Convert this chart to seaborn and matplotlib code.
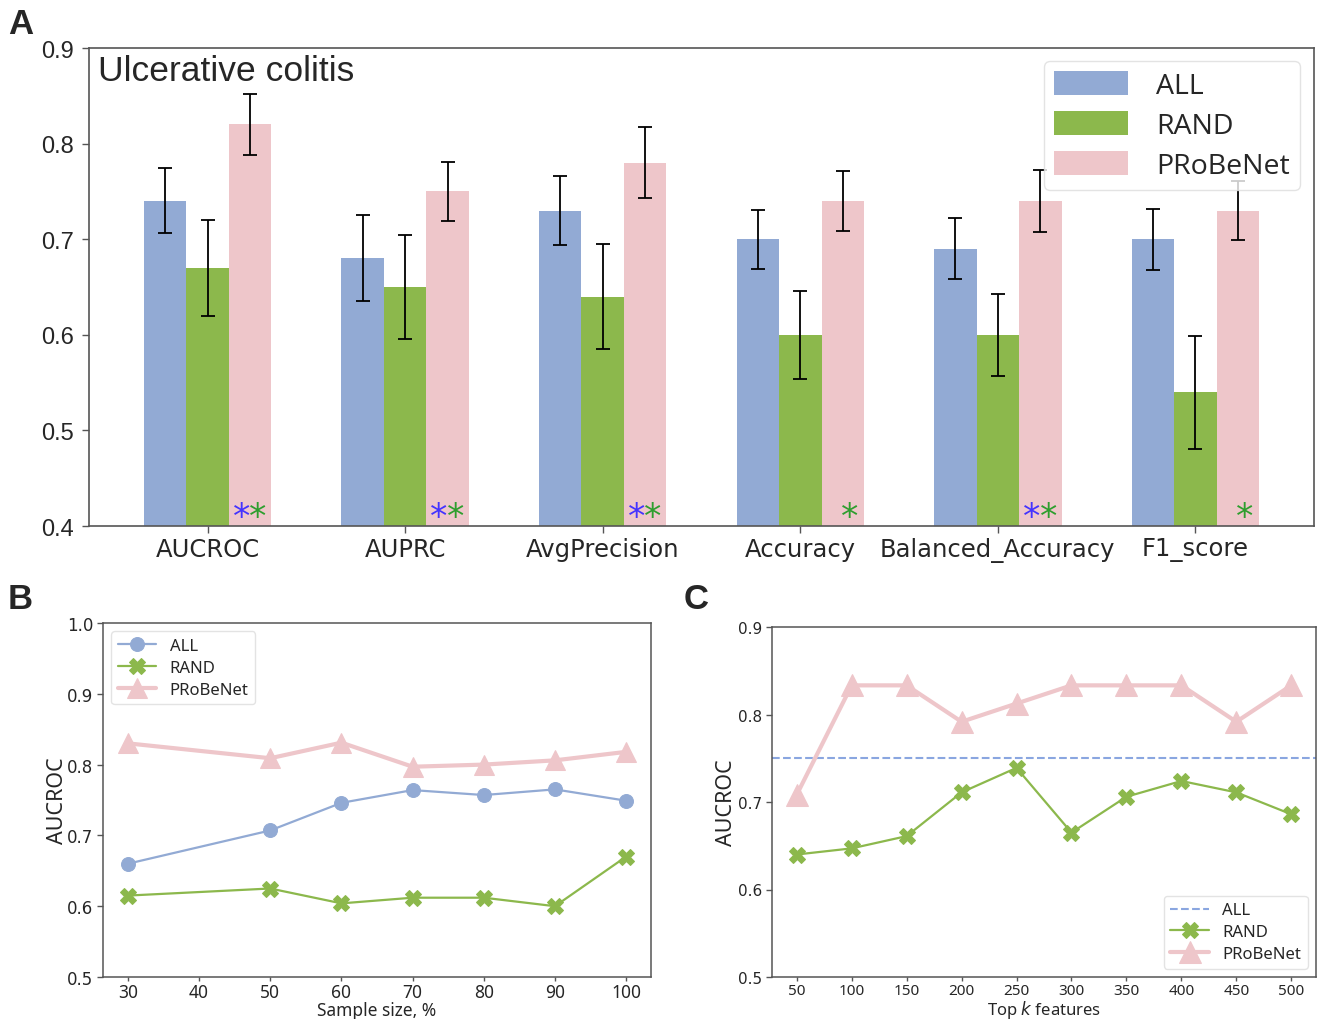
import numpy as np
import pandas as pd
import matplotlib
matplotlib.use("Agg")
import matplotlib.pyplot as plt
import seaborn as sns

# ---------------- data ----------------
metrics = ["AUCROC", "AUPRC", "AvgPrecision", "Accuracy", "Balanced_Accuracy", "F1_score"]
groups = ["ALL", "RAND", "PRoBeNet"]
all_vals = [0.74, 0.68, 0.73, 0.70, 0.69, 0.70]
rand_vals = [0.67, 0.65, 0.64, 0.60, 0.60, 0.54]
probe_vals = [0.82, 0.75, 0.78, 0.74, 0.74, 0.73]
all_err = [0.034, 0.045, 0.036, 0.031, 0.032, 0.032]
rand_err = [0.050, 0.054, 0.055, 0.046, 0.043, 0.059]
probe_err = [0.032, 0.031, 0.037, 0.031, 0.032, 0.031]
# significance markers under PRoBeNet bars: (vs ALL, vs RAND)
sig_all = [True, True, True, False, True, False]
sig_rand = [True, True, True, True, True, True]

sample_size = [30, 50, 60, 70, 80, 90, 100]
b_all = [0.660, 0.707, 0.746, 0.764, 0.757, 0.765, 0.749]
b_rand = [0.615, 0.625, 0.604, 0.612, 0.612, 0.600, 0.670]
b_probe = [0.830, 0.809, 0.831, 0.797, 0.800, 0.806, 0.818]

top_k = [50, 100, 150, 200, 250, 300, 350, 400, 450, 500]
c_all = 0.75
c_rand = [0.640, 0.647, 0.661, 0.711, 0.739, 0.665, 0.706, 0.724, 0.711, 0.686]
c_probe = [0.7083, 0.8333, 0.8333, 0.7917, 0.8125, 0.8333, 0.8333, 0.8333, 0.7917, 0.8333]

# ---------------- style ----------------
sns.set_theme(style="white")
plt.rcParams["font.family"] = ["DejaVu Sans"]
C_ALL = "#92AAD4"
C_RAND = "#8CB84C"
C_PROBE = "#EEC6CA"
SPINE = "#555555"

fig = plt.figure(figsize=(13.23, 10.20), dpi=100)

# ---------------- Panel A ----------------
axA = fig.add_axes([89 / 1323, 1 - 527 / 1020, 1225 / 1323, 478 / 1020])
dfA = pd.DataFrame({
    "metric": np.repeat(metrics, 3),
    "group": groups * len(metrics),
    "value": np.ravel(np.column_stack([all_vals, rand_vals, probe_vals])),
    "err": np.ravel(np.column_stack([all_err, rand_err, probe_err])),
})
sns.barplot(data=dfA, x="metric", y="value", hue="group", hue_order=groups,
            order=metrics, palette=[C_ALL, C_RAND, C_PROBE], width=0.645,
            errorbar=None, saturation=1, ax=axA, legend=True, linewidth=0,
            edgecolor="none")

# error bars at the bar centres
for gi, g in enumerate(groups):
    cont = axA.containers[gi]
    sub = dfA[dfA.group == g].set_index("metric").loc[metrics]
    xs = [p.get_x() + p.get_width() / 2 for p in cont.patches]
    axA.errorbar(xs, sub["value"].values, yerr=sub["err"].values, fmt="none",
                 ecolor="black", elinewidth=1.3, capsize=5, capthick=1.3, zorder=5)

# significance stars
probe_patches = axA.containers[2].patches
for i, p in enumerate(probe_patches):
    cx = p.get_x() + p.get_width() / 2
    if sig_all[i] and sig_rand[i]:
        axA.text(cx - 0.045, 0.392, "*", color="#4433FF", ha="center", va="bottom",
                 fontsize=25, zorder=6)
        axA.text(cx + 0.040, 0.392, "*", color="#2E9E2E", ha="center", va="bottom",
                 fontsize=25, zorder=6)
    elif sig_rand[i]:
        axA.text(cx + 0.035, 0.392, "*", color="#2E9E2E", ha="center", va="bottom",
                 fontsize=25, zorder=6)

axA.set_ylim(0.4, 0.9)
axA.set_xlim(-0.6, 5.6)
axA.set_yticks([0.4, 0.5, 0.6, 0.7, 0.8, 0.9])
axA.set_yticklabels(["0.4", "0.5", "0.6", "0.7", "0.8", "0.9"],
                    fontsize=17, family="Liberation Sans")
axA.set_xticks(range(len(metrics)))
axA.set_xticklabels(metrics, fontsize=17.5)
axA.set_xlabel("")
axA.set_ylabel("")
axA.tick_params(axis="both", length=5, color=SPINE, width=1, bottom=True, left=True, pad=3)
axA.tick_params(axis="y", pad=6)
for s in axA.spines.values():
    s.set_color(SPINE)
    s.set_linewidth(1.2)
axA.text(0.007, 0.988, "Ulcerative colitis", transform=axA.transAxes, ha="left", va="top",
         fontsize=25.5, family="Liberation Sans")
legA = axA.legend(loc="upper right", frameon=True, handlelength=2.6,
                  handleheight=0.9, borderpad=0.35, labelspacing=0.4, handletextpad=1.0,
                  borderaxespad=0, bbox_to_anchor=(0.9886, 0.9728),
                  prop={"family": "Open Sans", "size": 20.5})
legA.get_frame().set_edgecolor("#DDDDDD")
legA.set_title(None)

# ---------------- Panel B ----------------
axB = fig.add_axes([103 / 1323, 1 - 978 / 1020, 548 / 1323, 354 / 1020])
sns.lineplot(x=sample_size, y=b_all, ax=axB, color=C_ALL, marker="o", markersize=10,
             markeredgecolor=C_ALL, linewidth=1.6, label="ALL")
sns.lineplot(x=sample_size, y=b_rand, ax=axB, color=C_RAND, marker="X", markersize=11,
             markeredgecolor=C_RAND, linewidth=1.6, label="RAND")
sns.lineplot(x=sample_size, y=b_probe, ax=axB, color=C_PROBE, marker="^", markersize=14,
             markeredgecolor=C_PROBE, linewidth=3, label="PRoBeNet")
axB.set_ylim(0.5, 1.0)
axB.set_yticks([0.5, 0.6, 0.7, 0.8, 0.9, 1.0])
axB.set_yticklabels(["0.5", "0.6", "0.7", "0.8", "0.9", "1.0"], fontsize=12)
axB.set_xticks([30, 40, 50, 60, 70, 80, 90, 100])
axB.set_xticklabels([str(v) for v in [30, 40, 50, 60, 70, 80, 90, 100]], fontsize=12.5,
                    family="Noto Sans")
axB.set_xlabel("Sample size, %", fontsize=12.5, family="Noto Sans", labelpad=0)
axB.set_ylabel("AUCROC", fontsize=15.5, family="Noto Sans", labelpad=-1)
axB.tick_params(axis="both", length=3, color=SPINE, width=1, bottom=True, left=True, pad=1)
axB.tick_params(axis="y", length=4, pad=3)
for s in axB.spines.values():
    s.set_color(SPINE)
    s.set_linewidth(1.1)
legB = axB.legend(loc="upper left", prop={"family": "Noto Sans", "size": 12},
                  handlelength=2.3, labelspacing=0.35, borderpad=0.4)
legB.get_frame().set_edgecolor("#DDDDDD")

# ---------------- Panel C ----------------
axC = fig.add_axes([772 / 1323, 1 - 978 / 1020, 544 / 1323, 350 / 1020])
axC.axhline(c_all, ls="--", color="#8AA6E0", lw=1.5, label="ALL")
sns.lineplot(x=top_k, y=c_rand, ax=axC, color=C_RAND, marker="X", markersize=12,
             markeredgecolor=C_RAND, linewidth=1.6, label="RAND")
sns.lineplot(x=top_k, y=c_probe, ax=axC, color=C_PROBE, marker="^", markersize=16,
             markeredgecolor=C_PROBE, linewidth=3, label="PRoBeNet")
axC.set_ylim(0.5, 0.9)
axC.set_xlim(27.5, 522.5)
axC.set_yticks([0.5, 0.6, 0.7, 0.8, 0.9])
axC.set_yticklabels(["0.5", "0.6", "0.7", "0.8", "0.9"], fontsize=11)
axC.set_xticks(top_k)
axC.set_xticklabels([str(v) for v in top_k], fontsize=11, family="Noto Sans")
axC.set_xlabel("Top $\\it{k}$ features", fontsize=12, family="Noto Sans", labelpad=0)
axC.set_ylabel("AUCROC", fontsize=15.5, family="Noto Sans", labelpad=1)
axC.tick_params(axis="both", length=3, color=SPINE, width=1, bottom=True, left=True, pad=1)
axC.tick_params(axis="y", length=4, pad=3)
for s in axC.spines.values():
    s.set_color(SPINE)
    s.set_linewidth(1.1)
legC = axC.legend(loc="lower right", prop={"family": "Noto Sans", "size": 12},
                  handlelength=2.3, labelspacing=0.35, borderpad=0.4)
legC.get_frame().set_edgecolor("#DDDDDD")

# ---------------- panel letters ----------------
for lbl, (x, y) in {"A": (8, 8), "B": (8, 583), "C": (684, 583)}.items():
    fig.text(x / 1323, 1 - y / 1020, lbl, fontsize=25, fontweight="bold",
             family="Liberation Sans", ha="left", va="top")

fig.savefig("out.png", dpi=100)
